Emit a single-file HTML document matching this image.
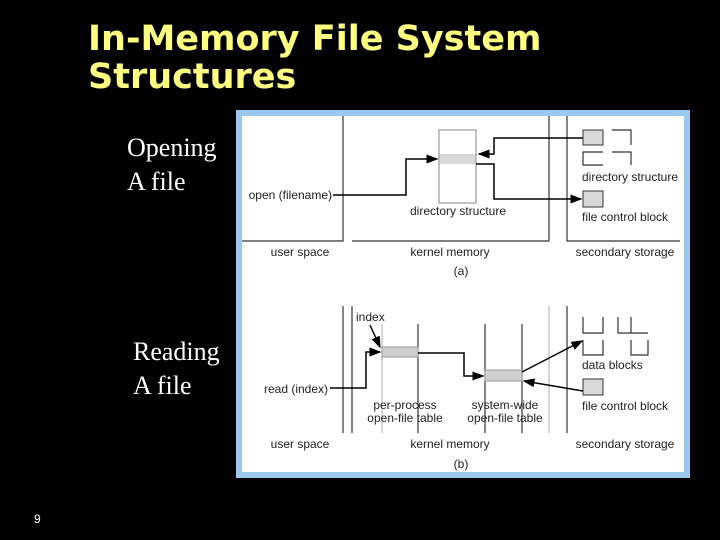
<!DOCTYPE html>
<html><head><meta charset="utf-8"><style>
html,body{margin:0;padding:0;background:#000;}
body{width:720px;height:540px;position:relative;overflow:hidden;}
.t{position:absolute;left:88px;color:#ffff80;font-family:"DejaVu Sans","Liberation Sans",sans-serif;font-weight:bold;font-size:35px;line-height:38px;white-space:nowrap;}
.s{position:absolute;color:#fff;font-family:"Liberation Serif",serif;font-size:26px;line-height:34px;}
</style></head><body>
<div class="t" style="top:20px">In-Memory File System<br>Structures</div>
<div class="s" style="left:127px;top:131px">Opening<br>A file</div>
<div class="s" style="left:133px;top:335px">Reading<br>A file</div>
<div style="position:absolute;left:34px;top:512px;color:#fff;font:12px 'Liberation Sans',sans-serif">9</div>
<svg width="720" height="540" style="position:absolute;left:0;top:0" font-family="Liberation Sans, sans-serif" font-size="12" fill="#222">
<defs><marker id="a" markerWidth="8" markerHeight="6" refX="7" refY="3" orient="auto"><path d="M0,0L8,3L0,6z" fill="#000"/></marker></defs>
<rect x="236" y="110" width="454" height="368" fill="#9cc8f0"/>
<rect x="242" y="116" width="442" height="356" fill="#fff"/>
<g stroke="#333" stroke-width="1.2" fill="none">
<path d="M343 116V241H242M352 241H549V116M567 116V241H680"/>
<rect x="439" y="130" width="37" height="73" stroke="#999"/>
<path d="M612 130H631V145M612 152H631V165M603 152H583V165H603"/>
</g>
<rect x="439.5" y="154" width="36" height="10" fill="#d8d8d8"/>
<rect x="583" y="130" width="20" height="15" fill="#d8d8d8" stroke="#333"/>
<rect x="583" y="191" width="20" height="16" fill="#d8d8d8" stroke="#333"/>
<g stroke="#000" stroke-width="1.5" fill="none">
<path d="M333 195H406V159H437" marker-end="url(#a)"/>
<path d="M583 138H494V154H479" marker-end="url(#a)"/>
<path d="M476 164H494V199H581" marker-end="url(#a)"/>
</g>
<text x="332" y="199" text-anchor="end">open (filename)</text>
<text x="458" y="215" text-anchor="middle">directory structure</text>
<text x="582" y="181">directory structure</text>
<text x="582" y="221">file control block</text>
<text x="300" y="256" text-anchor="middle">user space</text>
<text x="450" y="256" text-anchor="middle">kernel memory</text>
<text x="625" y="256" text-anchor="middle">secondary storage</text>
<text x="461" y="275" text-anchor="middle">(a)</text>
<!-- b -->
<g stroke="#333" stroke-width="1.2" fill="none">
<path d="M343 306V433M352 306V433M567 306V433M418 324V433M485 324V433M522 324V433"/>
<path d="M549 306V433M382 324V433" stroke="#bbb"/>
<path d="M583 317V333H603V317M618 317V333H648M631 317V333M583 340V355H603V340M631 340V355H648V340"/>
</g>
<rect x="382" y="347" width="36" height="10" fill="#d0d0d0" stroke="#999"/>
<rect x="485" y="370" width="37" height="11" fill="#d0d0d0" stroke="#999"/>
<rect x="583" y="379" width="20" height="16" fill="#d8d8d8" stroke="#333"/>
<g stroke="#000" stroke-width="1.5" fill="none">
<path d="M330 388H366V352H380" marker-end="url(#a)"/>
<path d="M370 325L380 347" marker-end="url(#a)"/>
<path d="M418 353H464V376H483" marker-end="url(#a)"/>
<path d="M522 372L582 341" marker-end="url(#a)"/>
<path d="M583 391L524 381" marker-end="url(#a)"/>
</g>
<text x="356" y="321">index</text>
<text x="328" y="393" text-anchor="end">read (index)</text>
<text x="405" y="409" text-anchor="middle">per-process</text>
<text x="405" y="422" text-anchor="middle">open-file table</text>
<text x="505" y="409" text-anchor="middle">system-wide</text>
<text x="505" y="422" text-anchor="middle">open-file table</text>
<text x="582" y="369">data blocks</text>
<text x="582" y="410">file control block</text>
<text x="300" y="448" text-anchor="middle">user space</text>
<text x="450" y="448" text-anchor="middle">kernel memory</text>
<text x="625" y="448" text-anchor="middle">secondary storage</text>
<text x="461" y="468" text-anchor="middle">(b)</text>
</svg>
</body></html>
